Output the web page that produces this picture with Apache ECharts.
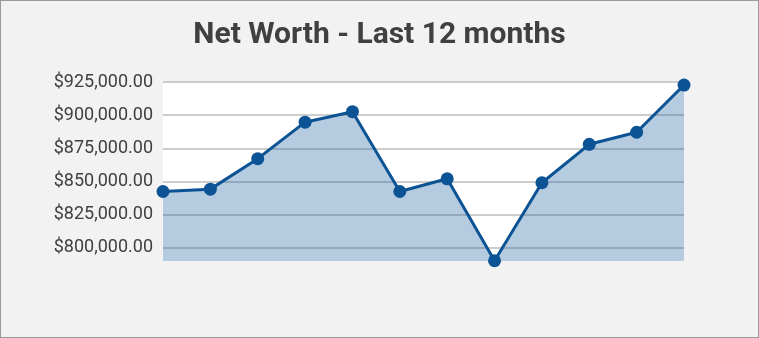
<!DOCTYPE html>
<html>
<head>
<meta charset="utf-8">
<script src="https://cdn.jsdelivr.net/npm/echarts@6/dist/echarts.min.js"></script>
<style>
  html, body { margin: 0; padding: 0; background: #f2f2f2; }
  #wrap { position: relative; width: 759px; height: 338px; }
  #chart { position: absolute; left: 0; top: 0; width: 759px; height: 338px; }
  #frame { position: absolute; left: 0; top: 0; width: 759px; height: 338px; box-sizing: border-box; border: 1px solid #9a9a9a; pointer-events: none; }
</style>
</head>
<body>
<div id="wrap"><div id="chart"></div><div id="frame"></div></div>
<script>
const titleText = 'Net Worth - Last 12 months';
const months = ['Month 1', 'Month 2', 'Month 3', 'Month 4', 'Month 5', 'Month 6',
                'Month 7', 'Month 8', 'Month 9', 'Month 10', 'Month 11', 'Month 12'];
const netWorth = [842400, 844200, 867200, 894700, 902600, 842400,
                  852000, 790200, 849000, 878000, 887100, 922700];
const yTicks = [800000, 825000, 850000, 875000, 900000, 925000];
const yMin = 790000;
const yMax = 925000;

function money(v) {
  return '$' + Number(v).toLocaleString('en-US', { minimumFractionDigits: 2, maximumFractionDigits: 2 });
}

const chart = echarts.init(document.getElementById('chart'), null, { renderer: 'canvas' });
chart.setOption({
  backgroundColor: '#f2f2f2',
  animation: false,
  title: {
    text: titleText,
    left: 'center',
    top: 15,
    textStyle: { fontFamily: 'Roboto', fontWeight: 'bold', fontSize: 30, color: '#404040' }
  },
  grid: {
    left: 163, right: 75, top: 82, bottom: 77,
    show: true, backgroundColor: '#ffffff', borderWidth: 0
  },
  xAxis: {
    type: 'category',
    data: months,
    boundaryGap: false,
    show: false
  },
  yAxis: {
    type: 'value',
    min: yMin,
    max: yMax,
    axisLine: { show: false },
    axisTick: { show: false, customValues: yTicks },
    axisLabel: {
      customValues: yTicks,
      formatter: money,
      fontFamily: 'Roboto',
      fontSize: 18,
      color: '#404040',
      margin: 10
    },
    splitLine: { show: true, lineStyle: { color: '#bcbcbc', width: 1.5 } }
  },
  series: [{
    type: 'line',
    data: netWorth,
    symbol: 'circle',
    symbolSize: 13,
    lineStyle: { color: '#0b5394', width: 3 },
    itemStyle: { color: '#0b5394' },
    areaStyle: { color: 'rgba(11,83,148,0.3)', opacity: 1, origin: 'start' }
  }]
});
</script>
</body>
</html>
